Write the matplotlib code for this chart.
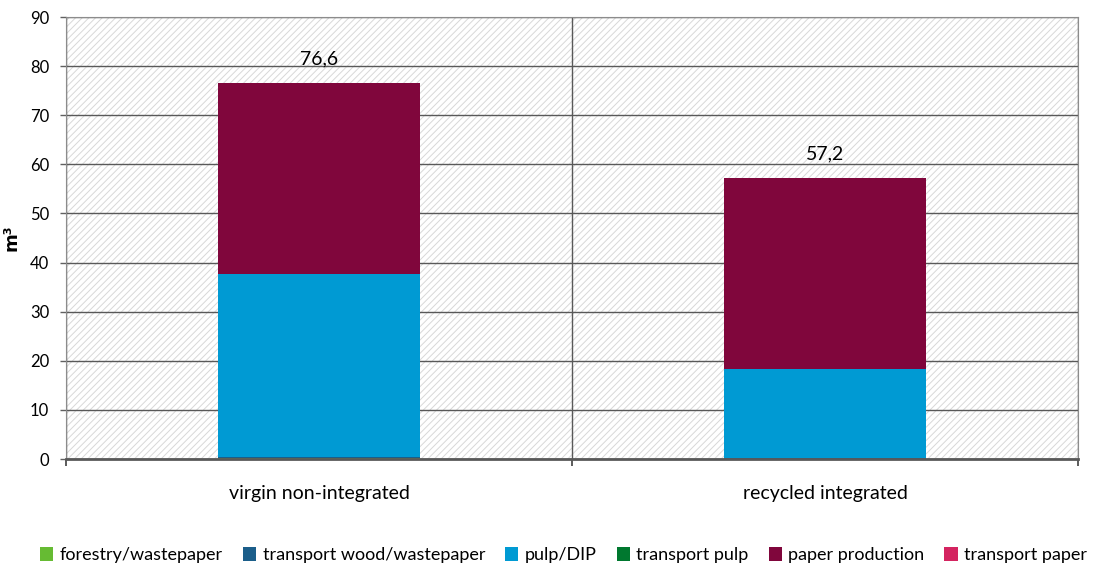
import numpy as np
import matplotlib.pyplot as plt
from matplotlib.patches import Patch

plt.rcParams['font.family'] = ['Lato', 'DejaVu Sans']
plt.rcParams['hatch.color'] = '#d8d8d8'
plt.rcParams['hatch.linewidth'] = 0.7

kategoriur = ["virgin non-integrated", "recycled integrated"]
thaettir = ["forestry/wastepaper", "transport wood/wastepaper", "pulp/DIP",
            "transport pulp", "paper production", "transport paper"]
gildi = {
    "forestry/wastepaper":       [0.3, 0.05],
    "transport wood/wastepaper": [0.1, 0.15],
    "pulp/DIP":                  [37.3, 18.1],
    "transport pulp":            [0.0, 0.0],
    "paper production":          [38.9, 38.9],
    "transport paper":           [0.0, 0.0],
}
samtals = [76.6, 57.2]
litir = ["#66bb33", "#1b5e8a", "#009ad3", "#00782f", "#80063c", "#d42460"]

fig = plt.figure(figsize=(11.05, 5.69), dpi=100)
ax = fig.add_axes([66/1105, 110/569, 1012/1105, 442/569])

ax.patch.set_facecolor("white")
ax.patch.set_hatch("/////")
ax.patch.set_edgecolor("#d8d8d8")

x = np.arange(len(kategoriur))
botn = np.zeros(len(kategoriur))
for nafn, lit in zip(thaettir, litir):
    v = np.array(gildi[nafn])
    ax.bar(x, v, 0.4, bottom=botn, color=lit, zorder=3, linewidth=0)
    botn += v

for xi, s in zip(x, samtals):
    ax.annotate(f"{s:.1f}".replace(".", ","), (xi, s), xytext=(0, 11),
                textcoords="offset points", ha="center", va="bottom", fontsize=14)

ax.set_xlim(-0.5, 1.5)
ax.set_ylim(0, 90)
ax.set_yticks(np.arange(0, 91, 10))
ax.set_xticks(x)
ax.set_xticklabels(kategoriur, fontsize=14)
ax.set_xticks([-0.5, 0.5, 1.5], minor=True)
ax.tick_params(axis="x", which="major", length=0, pad=19)
ax.tick_params(axis="x", which="minor", length=5, width=1.2, color="#404040", direction="out")
ax.tick_params(axis="y", length=4, width=1, color="#606060", labelsize=12, pad=8)
ax.yaxis.grid(True, color="#595959", linewidth=1, zorder=1)
ax.xaxis.grid(True, which="minor", color="#595959", linewidth=1, zorder=1)
ax.set_axisbelow(True)
for side in ["top", "right"]:
    ax.spines[side].set_color("#8c8c8c")
ax.spines["left"].set_color("#8c8c8c")
ax.spines["bottom"].set_color("#595959")
ax.spines["bottom"].set_linewidth(2)
ax.spines["bottom"].set_zorder(4)
ax.set_ylabel("m³", fontsize=13, fontweight="bold", family="DejaVu Sans")
ax.yaxis.set_label_coords(-0.045, 0.5)

handles = [Patch(facecolor=c, label=n) for n, c in zip(thaettir, litir)]
fig.legend(handles=handles, loc="center", bbox_to_anchor=(0.51, 0.024), ncol=6,
           frameon=False, fontsize=13, handlelength=0.75, handleheight=0.75,
           handletextpad=0.35, columnspacing=1.1)

fig.savefig("out.png", dpi=100)
